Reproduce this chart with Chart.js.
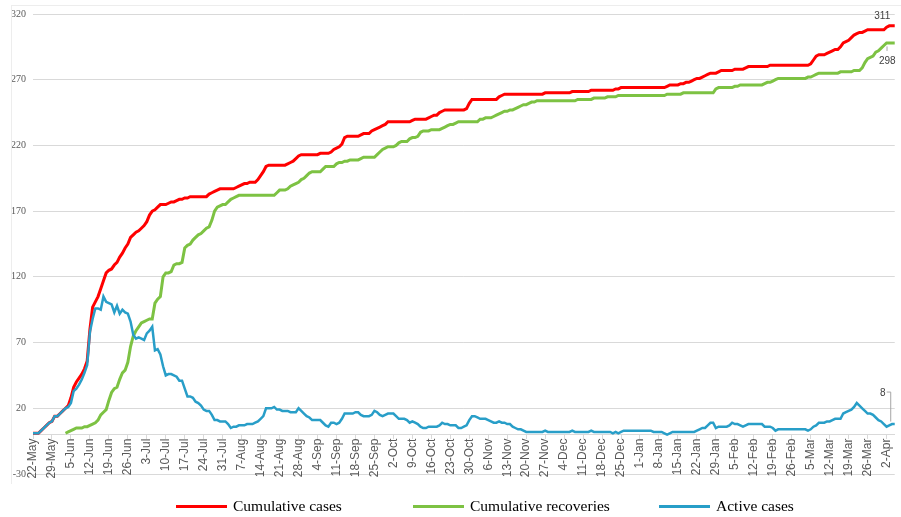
<!DOCTYPE html>
<html>
<head>
<meta charset="utf-8">
<script src="https://cdn.jsdelivr.net/npm/chart.js@4/dist/chart.umd.min.js"></script>
<style>
  html, body { margin: 0; padding: 0; background: #ffffff; }
  #wrap { position: relative; width: 901px; height: 517px; overflow: hidden; }
  #c { position: absolute; left: 0; top: 0; }
  #frame { position: absolute; left: 11px; top: 5px; width: 895px; height: 478px;
           border-left: 1px solid #ededed; border-top: 1px solid #ededed; pointer-events: none; }
  #legend { position: absolute; left: 0; top: 0; width: 901px; height: 517px; pointer-events: none; }
  #legend .item { position: absolute; top: 495px; height: 22px; display: flex; align-items: center;
                  font-family: "Liberation Serif", "Times New Roman", serif; font-size: 15.5px; color: #000; white-space: nowrap; }
  #legend .swatch { width: 51px; height: 3px; margin-right: 6px; }
</style>
</head>
<body>
<div id="wrap">
  <canvas id="c" width="901" height="517"></canvas>
  <div id="frame"></div>
  <div id="legend"></div>
</div>
<script>
// ---------------- data ----------------
const seriesNames = ['Cumulative cases', 'Cumulative recoveries', 'Active cases'];

const tickLabels = ['22-May','29-May','5-Jun','12-Jun','19-Jun','26-Jun','3-Jul','10-Jul','17-Jul','24-Jul',
  '31-Jul','7-Aug','14-Aug','21-Aug','28-Aug','4-Sep','11-Sep','18-Sep','25-Sep','2-Oct',
  '9-Oct','16-Oct','23-Oct','30-Oct','6-Nov','13-Nov','20-Nov','27-Nov','4-Dec','11-Dec',
  '18-Dec','25-Dec','1-Jan','8-Jan','15-Jan','22-Jan','29-Jan','5-Feb','12-Feb','19-Feb',
  '26-Feb','5-Mar','12-Mar','19-Mar','26-Mar','2-Apr'];

const yTicks = { min: -30, max: 320, step: 50 };

// daily values, one row per week starting 22-May
const casesCumulative = [
  1,1,1,3,5,7,9,
  10,14,14,16,18,20,22,
  28,36,40,43,46,50,56,
  80,97,101,105,111,117,123,
  125,126,129,131,135,138,142,
  145,150,152,154,155,157,159,
  162,167,170,171,173,175,175,
  175,176,177,177,178,179,179,
  180,180,181,181,181,181,181,
  181,181,183,184,185,186,187,
  187,187,187,187,187,188,189,
  190,191,191,192,192,192,194,
  197,200,204,205,205,205,205,
  205,205,205,206,207,208,210,
  212,213,213,213,213,213,213,
  213,214,214,214,214,215,217,
  218,219,221,226,227,227,227,
  227,227,228,229,229,229,231,
  232,233,234,235,236,238,238,
  238,238,238,238,238,238,238,
  239,240,240,240,240,240,241,
  242,243,243,245,246,247,247,
  247,247,247,247,247,247,248,
  252,255,255,255,255,255,255,
  255,255,255,255,257,258,259,
  259,259,259,259,259,259,259,
  259,259,259,259,259,259,259,
  260,260,260,260,260,260,260,
  260,260,260,261,261,261,261,
  261,261,261,262,262,262,262,
  262,262,262,262,262,263,263,
  264,264,264,264,264,264,264,
  264,264,264,264,264,264,264,
  264,264,264,265,266,266,266,
  266,267,267,268,268,269,270,
  271,271,272,273,274,275,275,
  275,276,277,277,277,277,277,
  278,278,278,278,279,280,280,
  280,280,280,280,280,280,281,
  281,281,281,281,281,281,281,
  281,281,281,281,281,281,281,
  282,285,288,289,289,289,290,
  291,292,293,293,295,298,299,
  300,302,304,305,306,306,307,
  308,308,308,308,308,308,308,
  310,311,311,311
];

const recoveriesCumulative = [
  null,null,null,null,null,null,null,
  null,null,null,null,null,1,2,
  3,4,5,5,5,6,6,
  7,8,9,11,15,17,19,
  26,32,35,36,42,47,49,
  55,67,75,79,82,85,86,
  87,88,88,100,103,105,120,
  123,123,124,129,130,130,131,
  142,144,145,148,150,152,153,
  155,157,158,163,170,173,174,
  175,175,177,179,180,181,182,
  182,182,182,182,182,182,182,
  182,182,182,182,182,182,184,
  186,186,186,187,189,190,191,
  192,194,195,197,199,200,200,
  200,200,202,204,204,204,204,
  206,207,207,208,208,209,209,
  209,209,210,211,211,211,211,
  211,213,215,217,218,219,219,
  219,220,222,223,223,223,225,
  226,226,227,230,231,231,231,
  232,232,232,232,233,234,235,
  236,236,237,238,238,238,238,
  238,238,238,238,240,240,241,
  241,241,242,243,244,245,246,
  246,247,247,248,249,250,251,
  251,252,253,253,254,254,254,
  254,254,254,254,254,254,254,
  254,254,254,254,254,255,255,
  255,255,255,255,256,256,256,
  256,256,257,257,257,257,258,
  258,258,258,258,258,258,258,
  258,258,258,258,258,258,258,
  258,258,258,259,259,259,259,
  259,259,260,260,260,260,260,
  260,260,260,260,260,260,260,
  263,264,264,264,264,264,264,
  265,265,266,266,266,266,266,
  266,266,266,266,267,268,268,
  269,270,271,271,271,271,271,
  271,271,271,271,271,271,272,
  272,273,274,275,275,275,275,
  275,275,275,275,276,276,276,
  276,276,277,277,277,279,283,
  286,287,288,291,292,294,296,
  298,298,298,298
];

const activeCases = [
  1,1,1,3,5,7,9,
  10,14,14,16,18,20,21,
  24,33,35,38,42,47,53,
  78,88,96,96,95,105,101,
  100,99,93,98,92,95,93,
  92,86,76,73,74,73,72,
  77,79,82,64,65,61,52,
  45,46,46,45,44,41,41,
  35,29,29,28,25,24,22,
  19,18,18,15,11,11,10,
  10,10,8,5,6,6,7,
  7,7,8,8,8,9,10,
  12,14,20,20,20,21,19,
  19,18,18,18,17,17,17,
  20,18,16,14,13,11,11,
  11,11,9,7,6,9,9,
  8,9,12,16,16,16,16,
  17,17,15,14,14,14,15,
  18,17,15,14,15,16,16,
  16,14,12,12,12,11,9,
  10,9,8,6,5,5,6,
  6,6,6,7,9,8,8,
  7,7,7,5,5,6,7,
  11,14,14,13,12,12,12,
  11,10,9,9,10,9,9,
  8,8,6,5,4,4,3,
  2,2,2,2,2,2,2,
  3,2,2,2,2,2,2,
  2,2,2,3,2,2,2,
  2,2,2,3,2,2,2,
  2,2,2,2,1,2,1,
  2,3,3,3,3,3,3,
  3,3,3,3,3,2,2,
  2,2,1,0,1,2,2,
  2,2,2,2,2,2,2,
  3,4,5,5,7,9,9,
  5,6,6,6,6,7,9,
  8,8,7,6,7,8,8,
  8,8,8,8,6,6,6,
  5,3,4,4,4,4,4,
  4,4,4,4,4,4,3,
  4,6,7,9,9,9,10,
  10,11,12,12,12,16,17,
  18,19,21,24,22,20,18,
  16,16,15,13,11,10,8,
  6,7,8,8
];

// ---------------- styles ----------------
const seriesColors = ['#ff0000', '#7dc243', '#289ec8'];
const seriesWidths = [3, 3, 2.5];
const seriesOrder = [2, 1, 0]; // active cases drawn on top
const legendLefts = [176, 413, 659];
const callouts = [
  { dx: -12.5, dy: -9.5 },
  { dx: -7.5, dy: 18, leader: [[-7.7, 3.5], [-7.7, 8]] },
  { dx: -12, dy: -31, leader: [[-8, -32], [-4, -32], [-4, -2.5]] }
];

const monthNames = ['Jan','Feb','Mar','Apr','May','Jun','Jul','Aug','Sep','Oct','Nov','Dec'];
const categories = casesCumulative.map((_, i) => {
  const d = new Date(Date.UTC(2020, 4, 22 + i));
  return d.getUTCDate() + '-' + monthNames[d.getUTCMonth()];
});

const seriesData = [casesCumulative, recoveriesCumulative, activeCases];

const endLabels = {
  id: 'endLabels',
  afterDatasetsDraw(chart) {
    const ctx = chart.ctx;
    ctx.save();
    ctx.font = '10px "Liberation Sans Narrow", "Liberation Sans", sans-serif';
    ctx.fillStyle = '#404040';
    ctx.strokeStyle = '#a6a6a6';
    ctx.lineWidth = 1;
    ctx.textAlign = 'center';
    ctx.textBaseline = 'middle';
    chart.data.datasets.forEach((ds, i) => {
      const meta = chart.getDatasetMeta(i);
      const pt = meta.data[meta.data.length - 1];
      const val = ds.data[ds.data.length - 1];
      const c = callouts[i];
      ctx.fillText(String(val), pt.x + c.dx, pt.y + c.dy);
      if (c.leader) {
        ctx.beginPath();
        c.leader.forEach(([lx, ly], k) => {
          if (k === 0) ctx.moveTo(pt.x + lx, pt.y + ly); else ctx.lineTo(pt.x + lx, pt.y + ly);
        });
        ctx.stroke();
      }
    });
    ctx.restore();
  }
};

const htmlLegend = {
  id: 'htmlLegend',
  afterUpdate(chart) {
    const box = document.getElementById('legend');
    box.innerHTML = '';
    chart.data.datasets.forEach((ds, i) => {
      const item = document.createElement('div');
      item.className = 'item';
      item.style.left = legendLefts[i] + 'px';
      const sw = document.createElement('span');
      sw.className = 'swatch';
      sw.style.background = ds.borderColor;
      const tx = document.createElement('span');
      tx.textContent = ds.label;
      item.appendChild(sw);
      item.appendChild(tx);
      box.appendChild(item);
    });
  }
};

new Chart(document.getElementById('c'), {
  type: 'line',
  data: {
    labels: categories,
    datasets: seriesNames.map((name, i) => ({
      label: name,
      data: seriesData[i],
      order: seriesOrder[i],
      borderColor: seriesColors[i],
      backgroundColor: seriesColors[i],
      borderWidth: seriesWidths[i],
      pointRadius: 0,
      pointHoverRadius: 0,
      tension: 0,
      fill: false,
      spanGaps: false
    }))
  },
  options: {
    responsive: false,
    animation: false,
    layout: { padding: { top: 14, right: 1, bottom: 43, left: 0 } },
    plugins: {
      legend: { display: false },
      tooltip: { enabled: false }
    },
    scales: {
      x: {
        type: 'category',
        position: { y: 0 },
        offset: false,
        afterFit(scale) { scale.height = 0; },
        grid: { drawOnChartArea: false, drawTicks: true, tickLength: 4, color: '#d9d9d9', lineWidth: 1 },
        border: { display: true, color: '#d9d9d9', width: 1 },
        ticks: {
          autoSkip: false,
          minRotation: 90,
          maxRotation: 90,
          padding: 0,
          color: '#595959',
          font: { family: 'Liberation Sans', size: 12 },
          callback: (v, i) => (i % 7 === 0 ? tickLabels[i / 7] : null)
        }
      },
      y: {
        min: yTicks.min,
        max: yTicks.max,
        afterFit(scale) { scale.width = 33; },
        grid: { color: '#d9d9d9', lineWidth: 1, drawTicks: false },
        border: { display: false },
        ticks: {
          stepSize: yTicks.step,
          padding: 7,
          color: '#595959',
          font: { family: 'Liberation Sans Narrow', size: 10 }
        }
      }
    }
  },
  plugins: [endLabels, htmlLegend]
});
</script>
</body>
</html>
